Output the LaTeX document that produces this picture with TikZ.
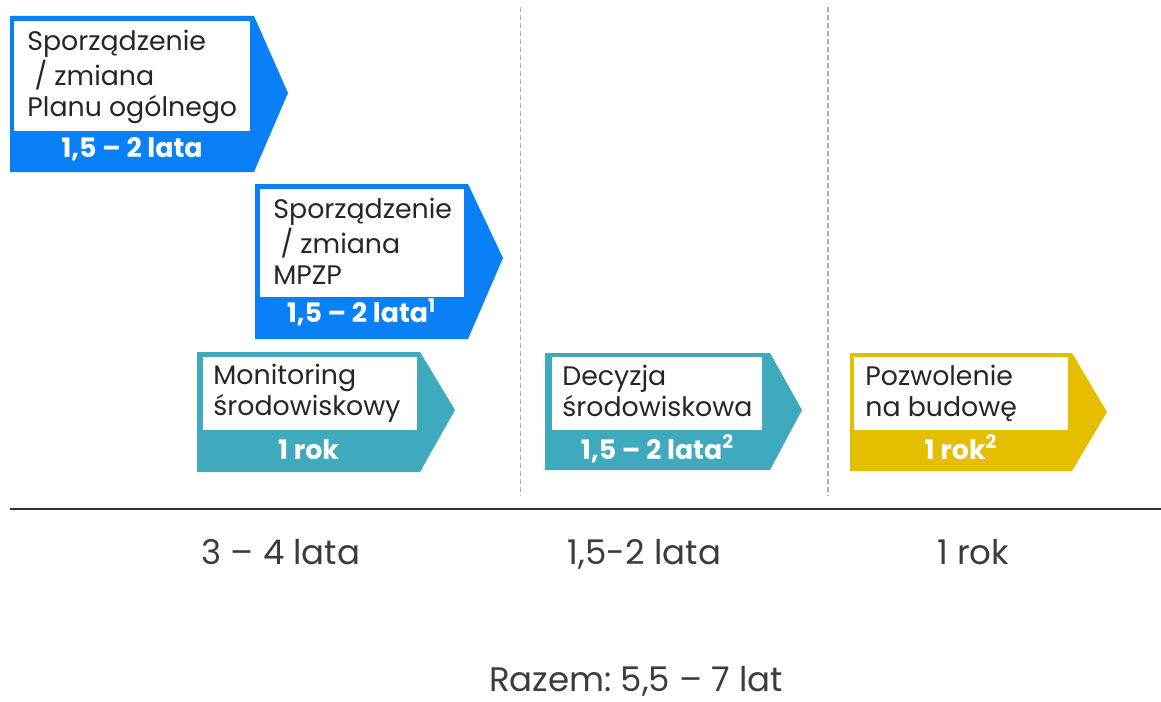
\documentclass[tikz,border=0pt]{standalone}
\usepackage{fontspec}
\setmainfont{Poppins}
\frenchspacing
\usepackage{tikz}
\usetikzlibrary {
  positioning,
  backgrounds,
}
\definecolor{niebieski}{HTML}{0A80F7}
\definecolor{morski}{HTML}{3FA9BD}
\definecolor{zolty}{HTML}{E5BE00}
\definecolor{tekst}{HTML}{262626}
\tikzset{
  opis/.style = {
    anchor = north west,
    align = left,
    inner sep = 0pt,
    text = tekst,
    font = \fontsize{13.4}{15.5}\selectfont
  },
  okres/.style = {
    anchor = base,
    inner sep = 0pt,
    text = white,
    font = \fontsize{13.4}{15}\selectfont\bfseries
  },
  suma/.style = {
    anchor = base,
    inner sep = 0pt,
    text = tekst!90,
    font = \fontsize{17}{20}\selectfont
  },
  okno/.style = {
    fill = white
  },
  podzial/.style = {
    gray!65,
    line width = 0.75pt,
    dash pattern = on 2.5pt off 1.5pt
  },
  os/.style = {
    tekst!95,
    line width = 1pt
  },
}

\begin{document}
\begin{tikzpicture}[x = 0.5pt, y = -0.5pt]
  \useasboundingbox (0,0) rectangle (1161,701);
  % plan ogolny
  \fill[niebieski] (10,16) -- (254,16) -- (288,93) -- (254,172) -- (10,172) -- cycle;
  \fill[okno] (14,21) rectangle (250,131);
  \node[opis] (plan) at (27,30) {Sporządzenie\\\ / zmiana\\Planu ogólnego};
  \node[okres] (plan-czas) at (132,157) {1,5 – 2 lata};
  % mpzp
  \fill[niebieski] (255,184) -- (468,184) -- (503,258) -- (468,339) -- (255,339) -- cycle;
  \fill[okno] (260,189) rectangle (464,297);
  \node[opis] (mpzp) at (273,198) {Sporządzenie\\\ / zmiana\\MPZP};
  \node[okres] (mpzp-czas) at (361.5,322.5) {1,5 – 2 lata\textsuperscript{1}};
  % monitoring
  \fill[morski] (197,352) -- (420,352) -- (455,410) -- (420,472) -- (197,472) -- cycle;
  \fill[okno] (203,357) rectangle (417,430);
  \node[opis] (monitoring) at (213,364) {Monitoring\\środowiskowy};
  \node[okres] (monitoring-czas) at (308.5,459) {1 rok};
  % decyzja
  \fill[morski] (545,353) -- (770,353) -- (802,410) -- (770,470) -- (545,470) -- cycle;
  \fill[okno] (552,357) rectangle (762,430);
  \node[opis] (decyzja) at (562,365) {Decyzja\\środowiskowa};
  \node[okres] (decyzja-czas) at (657.5,459) {1,5 – 2 lata\textsuperscript{2}};
  % pozwolenie
  \fill[zolty] (850,353) -- (1072,353) -- (1107,412) -- (1072,471) -- (850,471) -- cycle;
  \fill[okno] (854,357) rectangle (1068,430);
  \node[opis] (pozwolenie) at (865,365) {Pozwolenie\\na budowę};
  \node[okres] (pozwolenie-czas) at (961,459) {1 rok\textsuperscript{2}};
  % podzialy
  \coordinate (p1-g) at (520.5,7);
  \coordinate (p1-d) at (520.5,496);
  \coordinate (p2-g) at (828,7);
  \coordinate (p2-d) at (828,496);
  \draw[podzial] (p1-g) -- (p1-d);
  \draw[podzial] (p2-g) -- (p2-d);
  \coordinate (os-l) at (10,508.5);
  \coordinate (os-p) at (1161,508.5);
  \draw[os] (os-l) -- (os-p);
  % sumy
  \node[suma] (suma-1) at (281,564) {3 – 4 lata};
  \node[suma] (suma-2) at (644.5,564) {1,5-2 lata};
  \node[suma] (suma-3) at (973,564) {1 rok};
  \node[suma] (razem) at (636,691) {Razem: 5,5 – 7 lat};
\end{tikzpicture}
\end{document}
